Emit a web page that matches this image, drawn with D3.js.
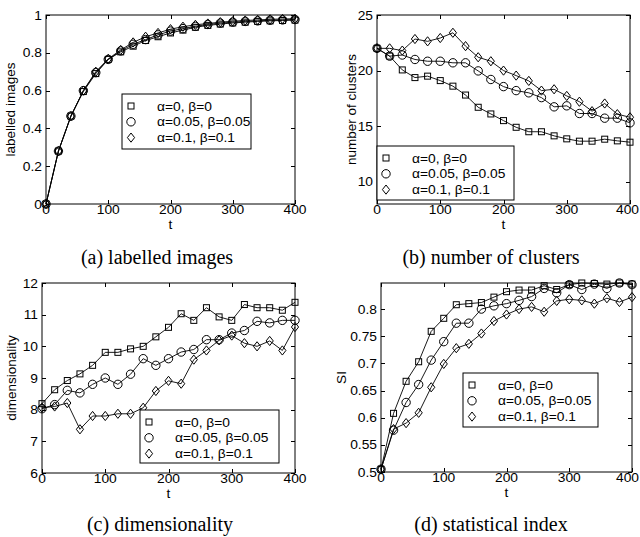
<!DOCTYPE html>
<html>
<head>
<meta charset="utf-8">
<script src="https://cdn.jsdelivr.net/npm/d3@7"></script>
<style>
  body { margin: 0; background: #fff; }
  svg { display: block; }
</style>
</head>
<body>
<div id="fig"></div>
<script>
// sample times shared by every panel
const tValues = [0, 20, 40, 60, 80, 100, 120, 140, 160, 180, 200, 220, 240, 260, 280, 300, 320, 340, 360, 380, 400];
const xTicks = [0, 100, 200, 300, 400];
const seriesNames = ["\u03b1=0, \u03b2=0", "\u03b1=0.05, \u03b2=0.05", "\u03b1=0.1, \u03b2=0.1"];

// (a) labelled images
const labelledSq = [0, 0.28, 0.465, 0.595, 0.69, 0.765, 0.805, 0.835, 0.865, 0.885, 0.905, 0.92, 0.935, 0.945, 0.952, 0.958, 0.962, 0.966, 0.969, 0.971, 0.973];
const labelledCi = [0, 0.28, 0.465, 0.6, 0.695, 0.765, 0.81, 0.845, 0.87, 0.895, 0.915, 0.928, 0.94, 0.95, 0.957, 0.962, 0.966, 0.969, 0.972, 0.974, 0.976];
const labelledDi = [0, 0.28, 0.465, 0.6, 0.7, 0.768, 0.815, 0.855, 0.885, 0.905, 0.925, 0.938, 0.948, 0.955, 0.962, 0.967, 0.971, 0.974, 0.977, 0.979, 0.98];
const labelledTicks = [0, 0.2, 0.4, 0.6, 0.8, 1];

// (b) number of clusters
const clustersSq = [22.0, 21.3, 20.06, 19.37, 19.5, 19.1, 18.6, 17.8, 16.7, 16.1, 15.5, 14.9, 14.5, 14.5, 14.13, 13.86, 13.65, 13.65, 13.83, 13.68, 13.56];
const clustersCi = [22.0, 21.3, 21.4, 21.0, 20.84, 20.84, 20.7, 20.7, 19.97, 19.2, 18.56, 18.2, 18.0, 17.57, 16.74, 16.83, 16.14, 16.14, 15.72, 15.72, 15.3];
const clustersDi = [22.0, 22.0, 21.8, 22.84, 22.63, 22.93, 23.4, 22.2, 21.2, 20.84, 20.0, 19.55, 19.07, 18.2, 18.32, 17.72, 17.2, 16.35, 17.04, 16.08, 15.8];
const clustersTicks = [10, 15, 20, 25];

// (c) dimensionality
const dimSq = [8.19, 8.63, 8.92, 9.13, 9.4, 9.81, 9.81, 9.92, 10.0, 10.3, 10.6, 11.03, 10.82, 11.22, 10.93, 10.82, 11.32, 11.22, 11.22, 11.14, 11.39];
const dimCi = [8.03, 8.16, 8.61, 8.53, 8.8, 9.0, 8.8, 9.12, 9.61, 9.4, 9.61, 9.82, 9.9, 10.21, 10.21, 10.42, 10.5, 10.79, 10.74, 10.82, 10.82];
const dimDi = [8.06, 8.1, 8.21, 7.38, 7.8, 7.8, 7.87, 7.87, 8.06, 8.59, 8.91, 8.82, 9.58, 9.87, 10.19, 10.34, 10.1, 10.0, 10.17, 9.87, 10.61];
const dimTicks = [6, 7, 8, 9, 10, 11, 12];

// (d) statistical index
const siSq = [0.505, 0.608, 0.667, 0.703, 0.759, 0.783, 0.808, 0.81, 0.812, 0.822, 0.832, 0.835, 0.835, 0.843, 0.836, 0.845, 0.848, 0.847, 0.846, 0.848, 0.846];
const siCi = [0.505, 0.577, 0.628, 0.661, 0.706, 0.74, 0.774, 0.774, 0.8, 0.806, 0.81, 0.816, 0.823, 0.838, 0.83, 0.845, 0.836, 0.846, 0.838, 0.848, 0.845];
const siDi = [0.505, 0.579, 0.59, 0.609, 0.656, 0.699, 0.728, 0.736, 0.755, 0.778, 0.79, 0.8, 0.804, 0.795, 0.815, 0.818, 0.816, 0.81, 0.82, 0.813, 0.822];
const siTicks = [0.5, 0.55, 0.6, 0.65, 0.7, 0.75, 0.8];

const W = 640, H = 537;
const svg = d3.select("#fig").append("svg")
  .attr("width", W)
  .attr("height", H)
  .attr("viewBox", [0, 0, W, H].join(" "));

const sansFont = "'Liberation Sans', Arial, sans-serif";
const serifFont = "'Liberation Serif', 'DejaVu Serif', serif";
const stretch = 1.15; // the figure is a bit wider than tall, so is its text

function label(g, x, y, str, anchor, size) {
  const t = g.append("text")
    .attr("text-anchor", anchor)
    .attr("font-family", sansFont)
    .attr("font-size", size || 12)
    .attr("fill", "#000")
    .text(str);
  // keep labels inside the page on the right
  let xx = x;
  if (anchor === "middle") {
    const half = t.node().getComputedTextLength() * stretch / 2;
    if (xx + half > W - 1) xx = W - 1 - half;
  }
  t.attr("transform", `translate(${xx},${y}) scale(${stretch},1)`);
  return t;
}

// marker shapes: square, circle, diamond (unfilled like matlab)
function marker(g, kind, cx, cy) {
  if (kind === 0) {
    g.append("rect").attr("x", cx - 3).attr("y", cy - 3).attr("width", 6).attr("height", 6)
      .attr("fill", "none").attr("stroke", "#000").attr("stroke-width", 1);
  } else if (kind === 1) {
    g.append("circle").attr("cx", cx).attr("cy", cy).attr("r", 4.2)
      .attr("fill", "none").attr("stroke", "#000").attr("stroke-width", 1);
  } else {
    g.append("path").attr("d", `M${cx},${cy - 4.6}L${cx + 3.6},${cy}L${cx},${cy + 4.6}L${cx - 3.6},${cy}Z`)
      .attr("fill", "none").attr("stroke", "#000").attr("stroke-width", 1);
  }
}

function drawPanel(p) {
  const x = d3.scaleLinear().domain([0, 400]).range([p.left, p.right]);
  const y = d3.scaleLinear().domain(p.yDomain).range([p.bottom, p.top]);
  const g = svg.append("g");

  // lines then markers
  const line = d3.line().x((d, i) => x(tValues[i])).y(d => y(d));
  p.series.forEach(s => {
    g.append("path").datum(s)
      .attr("d", line)
      .attr("fill", "none")
      .attr("stroke", "#000")
      .attr("stroke-width", 0.9);
  });
  p.series.forEach((s, k) => {
    s.forEach((v, i) => marker(g, k, x(tValues[i]), y(v)));
  });

  // box
  g.append("rect")
    .attr("x", p.left).attr("y", p.top)
    .attr("width", p.right - p.left).attr("height", p.bottom - p.top)
    .attr("fill", "none").attr("stroke", "#000").attr("stroke-width", 1);

  // ticks inside, on all four sides
  const tl = 4;
  xTicks.forEach(t => {
    const xx = Math.round(x(t)) + 0.5;
    g.append("line").attr("x1", xx).attr("x2", xx).attr("y1", p.bottom).attr("y2", p.bottom - tl).attr("stroke", "#000");
    g.append("line").attr("x1", xx).attr("x2", xx).attr("y1", p.top).attr("y2", p.top + tl).attr("stroke", "#000");
    label(g, x(t), p.bottom + 10, String(t), "middle");
  });
  p.yTicks.forEach(t => {
    const yy = Math.round(y(t)) + 0.5;
    g.append("line").attr("x1", p.left).attr("x2", p.left + tl).attr("y1", yy).attr("y2", yy).attr("stroke", "#000");
    g.append("line").attr("x1", p.right).attr("x2", p.right - tl).attr("y1", yy).attr("y2", yy).attr("stroke", "#000");
    label(g, p.left - 4, y(t) + 4.5, String(t), "end");
  });

  // axis titles
  label(g, (p.left + p.right) / 2, p.bottom + 25, "t", "middle", 12);
  g.append("text")
    .attr("transform", `translate(${p.yLabelX},${(p.top + p.bottom) / 2}) rotate(-90)`)
    .attr("text-anchor", "middle")
    .attr("font-family", sansFont)
    .attr("font-size", 13.5)
    .text(p.yLabel);

  // legend
  const lg = p.legend;
  g.append("rect")
    .attr("x", lg.x).attr("y", lg.y).attr("width", lg.w).attr("height", lg.h)
    .attr("fill", "#fff").attr("stroke", "#000").attr("stroke-width", 1);
  seriesNames.forEach((name, k) => {
    const cy = lg.y + 12 + k * 15.8;
    marker(g, k, lg.x + 9, cy);
    label(g, lg.x + 35, cy + 4.5, name, "start");
  });

  // caption
  svg.append("text")
    .attr("x", p.capX).attr("y", p.capY)
    .attr("text-anchor", "middle")
    .attr("font-family", serifFont)
    .attr("font-size", 20)
    .text(p.caption);
}

drawPanel({
  left: 46, right: 295, top: 15, bottom: 204,
  yDomain: [0, 1], yTicks: labelledTicks,
  series: [labelledSq, labelledCi, labelledDi],
  yLabel: "labelled images", yLabelX: 15,
  legend: { x: 122, y: 94, w: 129, h: 55 },
  caption: "(a) labelled images", capX: 157, capY: 264
});

drawPanel({
  left: 377, right: 630, top: 15, bottom: 204,
  yDomain: [8, 25], yTicks: clustersTicks,
  series: [clustersSq, clustersCi, clustersDi],
  yLabel: "number of clusters", yLabelX: 356,
  legend: { x: 377, y: 146, w: 137, h: 54 },
  caption: "(b) number of clusters", capX: 491, capY: 264
});

drawPanel({
  left: 42, right: 295, top: 283, bottom: 473,
  yDomain: [6, 12], yTicks: dimTicks,
  series: [dimSq, dimCi, dimDi],
  yLabel: "dimensionality", yLabelX: 16,
  legend: { x: 140, y: 410, w: 139, h: 53 },
  caption: "(c) dimensionality", capX: 160, capY: 531
});

drawPanel({
  left: 381, right: 632, top: 283, bottom: 472,
  yDomain: [0.5, 0.848], yTicks: siTicks,
  series: [siSq, siCi, siDi],
  yLabel: "SI", yLabelX: 346,
  legend: { x: 463, y: 373, w: 135, h: 54 },
  caption: "(d) statistical index", capX: 491, capY: 531
});
</script>
</body>
</html>
